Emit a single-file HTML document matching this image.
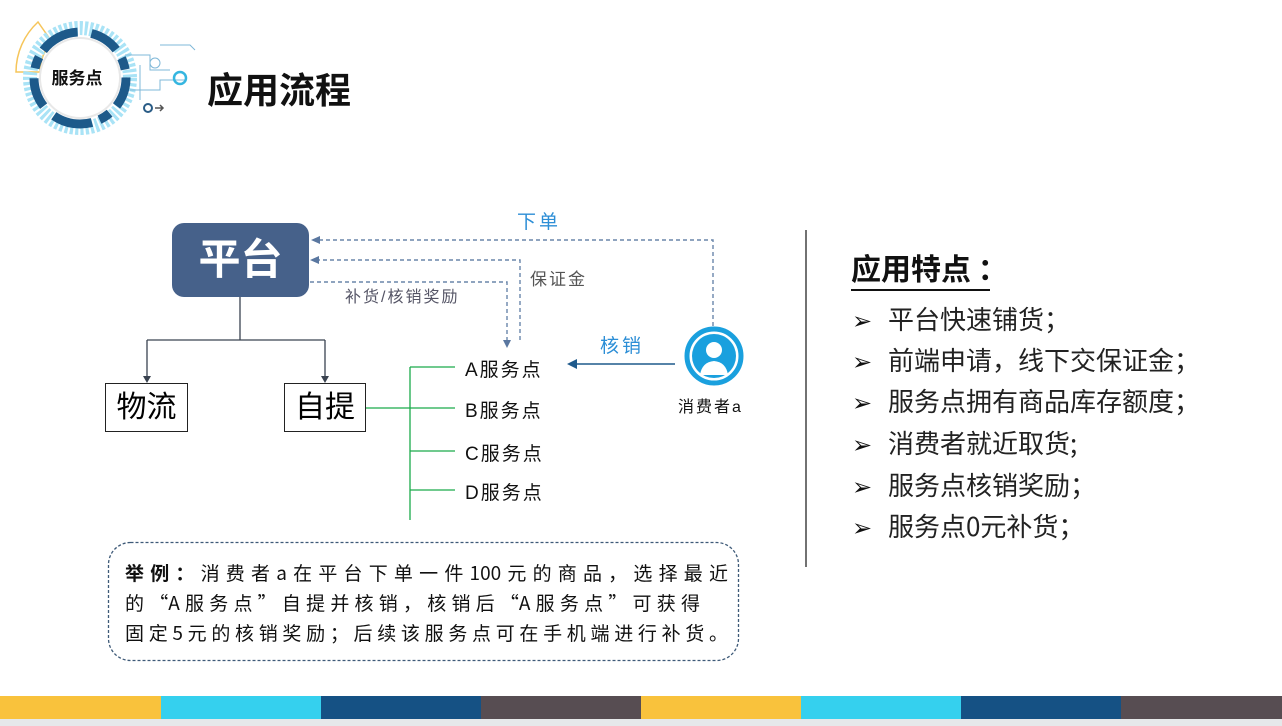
<!DOCTYPE html>
<html><head><meta charset="utf-8"><style>
body{margin:0;width:1282px;height:726px;overflow:hidden;background:#fff;font-family:"Liberation Sans","Noto Sans CJK SC",sans-serif;position:relative}
.a{position:absolute;white-space:nowrap}
.li{position:absolute;left:852px;font-size:26px;color:#222;line-height:30px;font-family:"Noto Sans CJK SC",sans-serif}
.li span{display:inline-block;width:36px;font-size:24px;color:#111}
.ex{display:block;text-align:justify;text-align-last:justify;height:30px}
</style></head><body>
<svg class="a" style="left:0;top:0" width="1282" height="726">
 <g>
  <path d="M38 22 A68 68 0 0 0 16 72 L40 72 A44 44 0 0 1 52 42 Z" fill="none" stroke="#f6c55a" stroke-width="1.5"/>
  <circle cx="80" cy="78" r="50" fill="none" stroke="#a9e3f6" stroke-width="14" stroke-dasharray="3 2"/>
  <circle cx="80" cy="78" r="46" fill="none" stroke="#1d5a8a" stroke-width="9" stroke-dasharray="30 10 12 8 40 14"/>
  <circle cx="80" cy="78" r="40" fill="#fff" stroke="#e8e8e8" stroke-width="2"/>
  <g stroke="#7fb8d8" fill="none" stroke-width="1">
   <path d="M125 55 L150 55 L150 70 L170 70 M130 90 L160 90 L160 80 L185 80 M140 65 L140 100 M160 45 L190 45 L195 50"/>
   <circle cx="180" cy="78" r="6" stroke="#35b6e0" stroke-width="2.5"/>
   <circle cx="155" cy="63" r="5"/>
   <circle cx="148" cy="108" r="4" stroke="#2a5c86" stroke-width="2"/>
  </g>
  <path d="M155 108 h8 m-3 -3 l3 3 l-3 3" stroke="#555" stroke-width="1.5" fill="none"/>
  <text x="77" y="84" font-size="17" font-weight="bold" text-anchor="middle" fill="#111" font-family="Liberation Sans,Noto Sans CJK SC,sans-serif">服务点</text>
 </g>
 <g stroke="#3a4350" stroke-width="1.3" fill="none">
  <path d="M240 297 V340 M147 340 H325 M147 340 V378 M325 340 V378"/>
 </g>
 <path d="M143 376 L151 376 L147 383 Z M321 376 L329 376 L325 383 Z" fill="#3a4350"/>
 <g stroke="#1aab4a" stroke-width="1.3" fill="none">
  <path d="M366 408 H455 M410 367 V520 M410 367 H455 M410 451 H455 M410 490 H455"/>
 </g>
 <g stroke="#6a86aa" stroke-width="1.4" fill="none" stroke-dasharray="4 3">
  <path d="M713 326 V240 H318"/>
  <path d="M520 340 V260 H316"/>
  <path d="M310 282 H507 V342"/>
 </g>
 <path d="M311 240 L320 236 L320 244 Z M310 260 L319 256 L319 264 Z M503 340 L511 340 L507 348 Z" fill="#5a77a0"/>
 <path d="M675 364 H575" stroke="#1f5a8c" stroke-width="1.5"/>
 <path d="M567 364 L577 359 L577 369 Z" fill="#1f5a8c"/>
 <circle cx="714" cy="356" r="27" fill="#fff" stroke="#1aa0de" stroke-width="5"/>
 <circle cx="714" cy="356" r="22" fill="#1aa0de"/>
 <circle cx="714" cy="350" r="8" fill="#fff"/>
 <path d="M700 375 Q702 362 714 361 Q726 362 728 375 Z" fill="#fff"/>
 <path d="M806 230 V567" stroke="#444" stroke-width="1.5"/>
 <path d="M851 290 H990" stroke="#111" stroke-width="2"/>
 <rect x="108.5" y="542.5" width="630" height="118" rx="22" fill="none" stroke="#3e5a78" stroke-width="1.3" stroke-dasharray="3 2"/>
 <rect x="0" y="719" width="1282" height="7" fill="#e6e8ea"/>
 <rect x="0" y="696" width="161" height="23" fill="#f9c23c"/>
 <rect x="161" y="696" width="160" height="23" fill="#35d0ee"/>
 <rect x="321" y="696" width="160" height="23" fill="#155184"/>
 <rect x="481" y="696" width="160" height="23" fill="#574d52"/>
 <rect x="641" y="696" width="160" height="23" fill="#f9c23c"/>
 <rect x="801" y="696" width="160" height="23" fill="#35d0ee"/>
 <rect x="961" y="696" width="160" height="23" fill="#155184"/>
 <rect x="1121" y="696" width="161" height="23" fill="#574d52"/>
</svg>
<div class="a" style="left:207px;top:62px;font-size:36px;font-weight:bold;color:#111">应用流程</div>
<div class="a" style="left:172px;top:223px;width:137px;height:74px;background:#46618a;border-radius:12px;color:#fff;font-size:42px;font-weight:bold;text-align:center;line-height:74px">平台</div>
<div class="a" style="left:105px;top:383px;width:81px;height:47px;border:1px solid #222;font-size:30px;text-align:center;line-height:47px">物流</div>
<div class="a" style="left:284px;top:383px;width:80px;height:47px;border:1px solid #222;font-size:30px;text-align:center;line-height:47px">自提</div>
<div class="a" style="left:465px;top:355px;font-size:19px;color:#111;letter-spacing:2px">A服务点</div>
<div class="a" style="left:465px;top:396px;font-size:19px;color:#111;letter-spacing:2px">B服务点</div>
<div class="a" style="left:465px;top:439px;font-size:19px;color:#111;letter-spacing:2px">C服务点</div>
<div class="a" style="left:465px;top:478px;font-size:19px;color:#111;letter-spacing:2px">D服务点</div>
<div class="a" style="left:517px;top:207px;font-size:19px;color:#2c8ed6;letter-spacing:3px">下单</div>
<div class="a" style="left:530px;top:265px;font-size:17px;color:#555;letter-spacing:2px">保证金</div>
<div class="a" style="left:345px;top:283px;font-size:16px;color:#556;letter-spacing:2px">补货/核销奖励</div>
<div class="a" style="left:600px;top:331px;font-size:19px;color:#2c8ed6;letter-spacing:3px">核销</div>
<div class="a" style="left:678px;top:393px;font-size:16px;color:#111;letter-spacing:2px">消费者a</div>
<div class="a" style="left:851px;top:246px;font-size:30px;font-weight:bold;color:#111;font-family:'Noto Sans CJK SC',sans-serif;line-height:42px">应用特点 ：</div>
<div class="li" style="top:304px"><span>➢</span>平台快速铺货；</div>
<div class="li" style="top:345px"><span>➢</span>前端申请，线下交保证金；</div>
<div class="li" style="top:386px"><span>➢</span>服务点拥有商品库存额度；</div>
<div class="li" style="top:428px"><span>➢</span>消费者就近取货;</div>
<div class="li" style="top:470px"><span>➢</span>服务点核销奖励；</div>
<div class="li" style="top:511px"><span>➢</span>服务点0元补货；</div>
<div class="a" style="left:125px;top:558px;font-size:19px;line-height:30px;color:#111;font-family:'Noto Sans CJK SC',sans-serif">
<span class="ex" style="width:603px"><b>举例：</b>消费者a在平台下单一件100元的商品，选择最近</span>
<span class="ex" style="width:575px">的“A服务点”自提并核销，核销后“A服务点”可获得</span>
<span class="ex" style="width:603px">固定5元的核销奖励；后续该服务点可在手机端进行补货。</span>
</div>
</body></html>
